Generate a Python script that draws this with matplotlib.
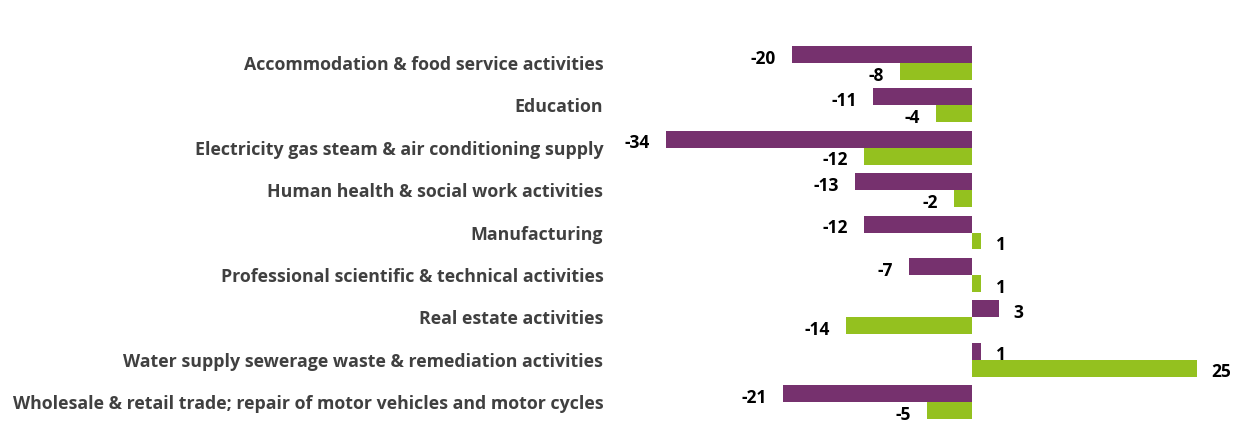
import matplotlib
matplotlib.use("Agg")
import matplotlib.pyplot as plt
import numpy as np

categories = [
    "Accommodation & food service activities",
    "Education",
    "Electricity gas steam & air conditioning supply",
    "Human health & social work activities",
    "Manufacturing",
    "Professional scientific & technical activities",
    "Real estate activities",
    "Water supply sewerage waste & remediation activities",
    "Wholesale & retail trade; repair of motor vehicles and motor cycles",
]
series_purple = [-20, -11, -34, -13, -12, -7, 3, 1, -21]
series_green = [-8, -4, -12, -2, 1, 1, -14, 25, -5]

PURPLE = "#76316E"
GREEN = "#94C11F"

W, H = 1239, 437
fig = plt.figure(figsize=(W / 100, H / 100), dpi=100)
left_px, right_px = 620, 1225
top_px, bot_px = 41.8, 423.2
ax = fig.add_axes([left_px / W, (H - bot_px) / H, (right_px - left_px) / W, (bot_px - top_px) / H])

scale = 9.0  # px per unit
zero_px = 971.5
xmin = -(zero_px - left_px) / scale
xmax = xmin + (right_px - left_px) / scale
ax.set_xlim(xmin, xmax)
ax.set_ylim(len(categories) - 0.5, -0.5)

y = np.arange(len(categories))
bh = 0.4
ax.barh(y - bh / 2, series_purple, height=bh, color=PURPLE)
ax.barh(y + bh / 2, series_green, height=bh, color=GREEN)

font = "Open Sans"
for yy, vals in ((y - bh / 2, series_purple), (y + bh / 2, series_green)):
    for yi, v in zip(yy, vals):
        off = -11 if v < 0 else 11
        ax.annotate(str(v), (v, yi), xytext=(off, -3), textcoords="offset points",
                    ha="right" if v < 0 else "left", va="center", fontsize=12.5,
                    fontweight="bold", color="black", family=font)

ax.set_yticks(y)
ax.set_yticklabels(categories, fontsize=12.8, fontweight="bold", color="#404040", family=font)
ax.tick_params(axis="y", length=0, pad=12)
ax.set_xticks([])
for s in ax.spines.values():
    s.set_visible(False)

fig.savefig("out.png", dpi=100)
